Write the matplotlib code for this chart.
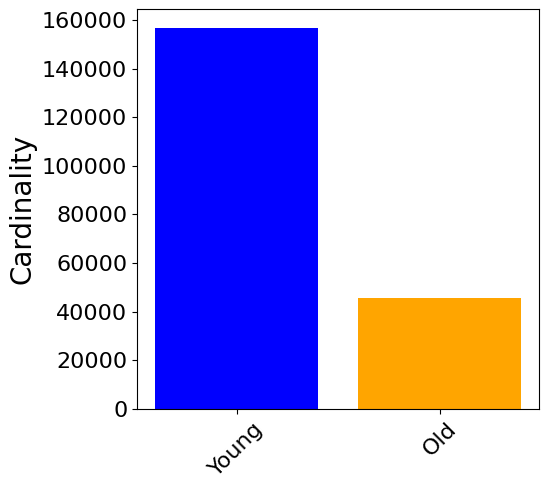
import numpy as np
from matplotlib import pyplot as plt

categories = ["Young", "Old"]
counts = [156700, 45700]
colors = ["blue", "orange"]
yticks = [0, 20000, 40000, 60000, 80000, 100000, 120000, 140000, 160000]

fig = plt.figure(figsize=(5.48, 4.92), dpi=100)
ax = fig.add_axes([0.25, 0.169, 0.734, 0.813])
ax.bar(categories, counts, color=colors, width=0.8)
ax.set_yticks(yticks)
ax.set_ylabel("Cardinality", fontsize=20)
ax.tick_params(axis="both", labelsize=16)
plt.setp(ax.get_xticklabels(), rotation=45)
fig.savefig("out.png", dpi=100)
